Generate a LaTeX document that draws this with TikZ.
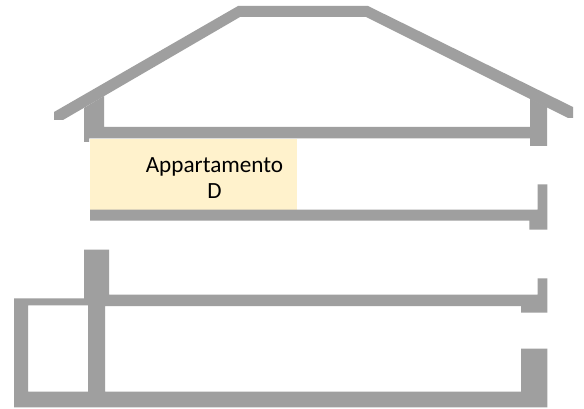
\documentclass[tikz,border=0pt]{standalone}
\usepackage{fontspec}
\setmainfont{Carlito}
\definecolor{wallgray}{HTML}{9F9F9F}
\definecolor{roomyellow}{HTML}{FFF2CC}
\tikzset{wall/.style={fill=wallgray,draw=none},room/.style={fill=roomyellow,draw=none}}
\begin{document}
\begin{tikzpicture}[x=1pt,y=-1pt]
\useasboundingbox (0,0) rectangle (584,409);
\fill[white] (0,0) rectangle (584,409);
% apartment
\path[room] (89.5,139) rectangle (297,209.5);
% roof
\path[wall] (54,112) -- (238,6) -- (368,6) -- (573,107) -- (573,118) -- (568,118) -- (366,17) -- (240,17) -- (63,120) -- (54,120) -- cycle;
% top floor with its walls
\path[wall] (84,108) -- (104,96) -- (104,127) -- (530,127) -- (530,98.5) -- (547,107) -- (547,146) -- (530,146) -- (530,138.5) -- (89,138.5) -- (89,142) -- (84,142) -- cycle;
% second floor
\path[wall] (90,209.5) -- (537.7,209.5) -- (537.7,184.3) -- (547.3,184.3) -- (547.3,229.7) -- (529.3,229.7) -- (529.3,220.5) -- (90,220.5) -- cycle;
% ground floor with column and basement
\path[wall,even odd rule] (14,298.3) -- (84,298.3) -- (84,249.5) -- (109,249.5) -- (109,294.5) -- (537.7,294.5) -- (537.7,278.3) -- (547.3,278.3) -- (547.3,312.7) -- (521,312.7) -- (521,306) -- (105,306) -- (105,391.7) -- (521,391.7) -- (521,348.7) -- (547.3,348.7) -- (547.3,407.3) -- (14,407.3) -- cycle
 (28,305.3) rectangle (88,391.7);
\node[font=\fontsize{23.2}{26}\selectfont,align=center,text=black,inner sep=0pt,anchor=center] (apt) at (214.5,178) {Appartamento\\D};
\end{tikzpicture}
\end{document}
